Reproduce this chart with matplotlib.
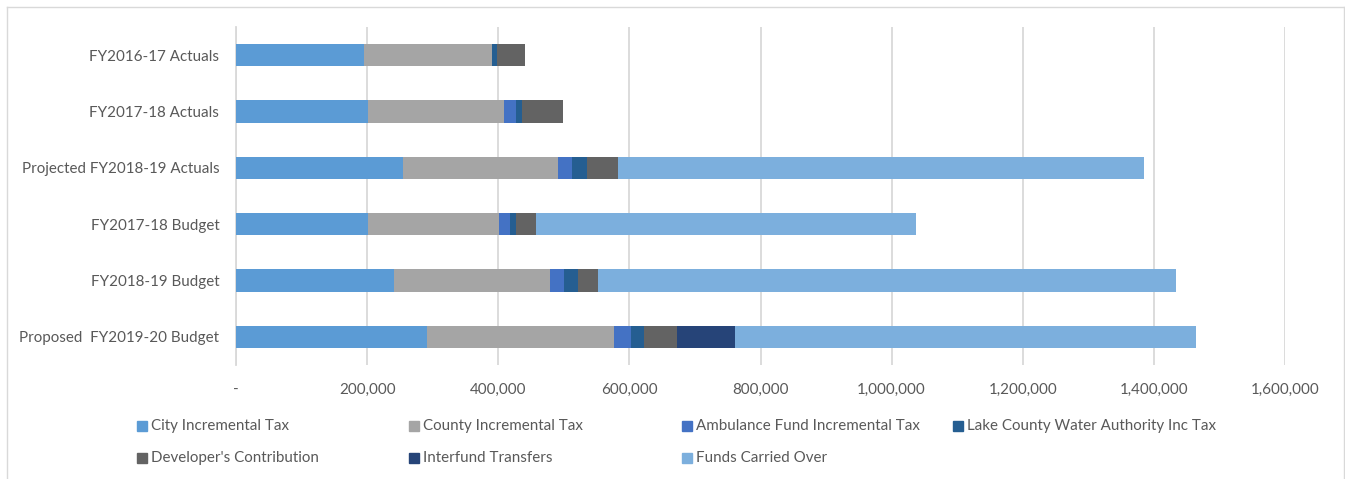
import matplotlib

matplotlib.use("Agg")
import matplotlib.pyplot as plt
from matplotlib.patches import Rectangle
from matplotlib.ticker import FuncFormatter

plt.rcParams["font.family"] = ["Lato", "DejaVu Sans"]
TEXT_COLOUR = "#595959"
GRID_COLOUR = "#D9D9D9"
FONT_SIZE = 10.9

categories = [
    "FY2016-17 Actuals",
    "FY2017-18 Actuals",
    "Projected FY2018-19 Actuals",
    "FY2017-18 Budget",
    "FY2018-19 Budget",
    "Proposed  FY2019-20 Budget",
]

city_tax = [195700, 201800, 255200, 201200, 241500, 291600]
county_tax = [194300, 207000, 236000, 199400, 236900, 284900]
ambulance_tax = [0, 17900, 20900, 18000, 21300, 25600]
water_tax = [8600, 10100, 22900, 9200, 22300, 20800]
developer = [41800, 62000, 48200, 30500, 29500, 49000]
interfund = [0, 0, 0, 0, 0, 88800]
carried_over = [0, 0, 801500, 578600, 882500, 703800]

series = [
    ("City Incremental Tax", city_tax, "#5B9BD5"),
    ("County Incremental Tax", county_tax, "#A5A5A5"),
    ("Ambulance Fund Incremental Tax", ambulance_tax, "#4472C4"),
    ("Lake County Water Authority Inc Tax", water_tax, "#255E91"),
    ("Developer's Contribution", developer, "#636363"),
    ("Interfund Transfers", interfund, "#264478"),
    ("Funds Carried Over", carried_over, "#7CAFDD"),
]

W, H = 1345, 479
fig = plt.figure(figsize=(W / 100, H / 100), dpi=100)
ax = fig.add_axes([236 / W, 1 - 365 / H, (1285 - 236) / W, (365 - 27) / H])

y = list(range(len(categories)))
left = [0] * len(categories)
for name, values, colour in series:
    ax.barh(y, values, left=left, height=0.4, color=colour, label=name, zorder=3)
    left = [a + b for a, b in zip(left, values)]

ax.set_xlim(0, 1600000)
ax.set_ylim(len(categories) - 0.5, -0.5)
ax.set_xticks(range(0, 1600001, 200000))
ax.xaxis.set_major_formatter(
    FuncFormatter(lambda v, _: "-" if v == 0 else f"{int(v):,}")
)
ax.set_yticks(y)
ax.set_yticklabels(categories)
ax.tick_params(axis="both", length=0, labelsize=FONT_SIZE, colors=TEXT_COLOUR)
ax.tick_params(axis="x", pad=13)
ax.tick_params(axis="y", pad=12)
ax.grid(axis="x", color=GRID_COLOUR, linewidth=1.3, zorder=0)
for side in ("top", "right", "bottom"):
    ax.spines[side].set_visible(False)
ax.spines["left"].set_color(GRID_COLOUR)
ax.spines["left"].set_linewidth(1.3)

# legend laid out in a fixed 4-column grid
col_x = [137, 409, 682, 953]
row_y = [426, 458]
for i, (name, _, colour) in enumerate(series):
    cx = col_x[i % 4]
    cy = row_y[i // 4]
    fig.patches.append(
        Rectangle(
            (cx / W, 1 - (cy + 5) / H), 10 / W, 10 / H,
            transform=fig.transFigure, color=colour,
        )
    )
    fig.text((cx + 14) / W, 1 - cy / H, name, fontsize=FONT_SIZE,
             color=TEXT_COLOUR, va="center", ha="left")

# chart border
for xs, ys in (([7, 7], [H + 5, 7]), ([7, 1344], [7, 7]), ([1344, 1344], [7, H + 5])):
    fig.lines.append(
        plt.Line2D([v / W for v in xs], [1 - v / H for v in ys],
                   transform=fig.transFigure, color=GRID_COLOUR, linewidth=1)
    )

fig.savefig("out.png", dpi=100)
